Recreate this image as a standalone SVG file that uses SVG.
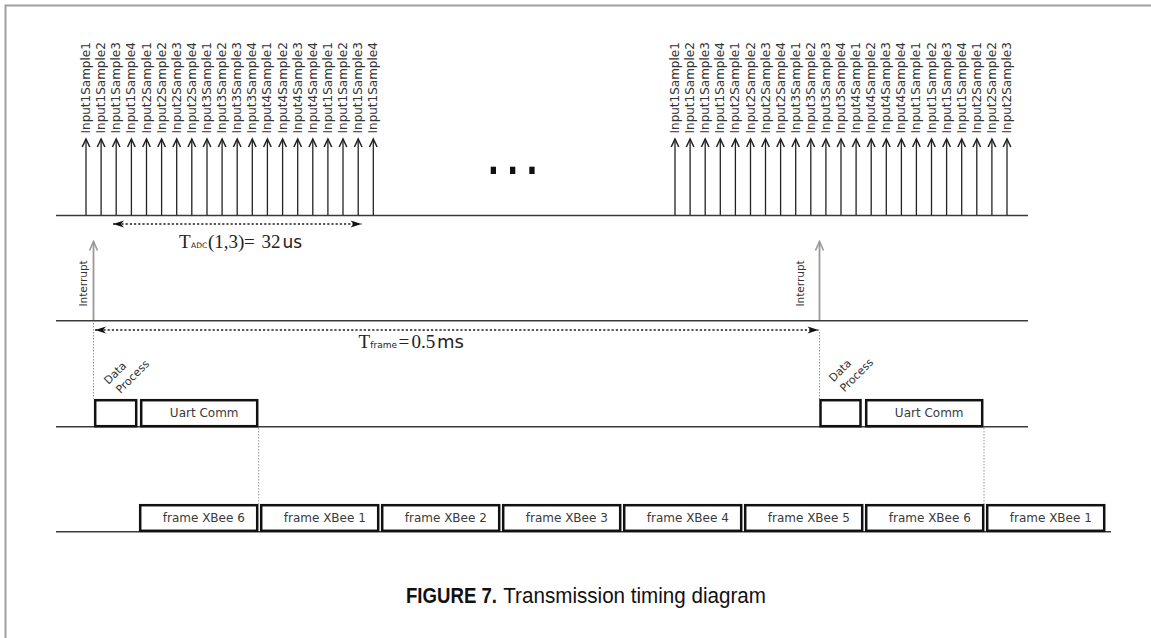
<svg xmlns="http://www.w3.org/2000/svg" width="1151" height="638" viewBox="0 0 1151 638">
<style>
.tl{stroke:#3a3a3a;stroke-width:1.6;fill:none}
.smp{stroke:#222;stroke-width:1.3;fill:none;marker-end:url(#openArrow)}
.irq{stroke:#9a9a9a;stroke-width:1.8;fill:none;marker-end:url(#grayArrow)}
.dim{stroke:#222;stroke-width:1.6;stroke-dasharray:2.2 2;fill:none;marker-start:url(#dimArrow);marker-end:url(#dimArrow)}
.guide{stroke:#999;stroke-width:1;stroke-dasharray:1.5 1.5;fill:none}
.lbl{font-family:"DejaVu Sans",sans-serif;font-size:12px;fill:#333}
.box{fill:#fff;stroke:#111;stroke-width:2.5}
.btxt{font-family:"DejaVu Sans",sans-serif;font-size:12px;fill:#3a3a3a;text-anchor:middle}
.dp{font-family:"DejaVu Sans",sans-serif;font-size:11px;fill:#333}
.irqt{font-family:"DejaVu Sans",sans-serif;font-size:10.5px;fill:#333}
.ser{font-family:"Liberation Serif",serif;fill:#222}
.san{font-family:"DejaVu Sans",sans-serif;fill:#222}
.cap{font-family:"Liberation Sans Narrow","Liberation Sans",sans-serif;font-size:22px;fill:#111}
</style>
<defs>
<marker id="openArrow" viewBox="-10 -6 12 12" markerWidth="12" markerHeight="12" refX="0" refY="0" orient="auto" markerUnits="userSpaceOnUse">
<path d="M-8,-3.8 L0,0 L-8,3.8" fill="none" stroke="#222" stroke-width="1.5"/>
</marker>
<marker id="grayArrow" viewBox="-11 -6 13 12" markerWidth="13" markerHeight="12" refX="0" refY="0" orient="auto" markerUnits="userSpaceOnUse">
<path d="M-9,-4 L0,0 L-9,4" fill="none" stroke="#9a9a9a" stroke-width="1.6"/>
</marker>
<marker id="dimArrow" viewBox="-12 -5 13 10" markerWidth="13" markerHeight="10" refX="0" refY="0" orient="auto-start-reverse" markerUnits="userSpaceOnUse">
<path d="M0,0 L-11,-3.5 L-8,0 L-11,3.5 Z" fill="#111"/>
</marker>
</defs>

<rect width="1151" height="638" fill="#fff"/>
<g id="border"><path d="M5.5,638 V5.5 H1151" fill="none" stroke="#a0a0a0" stroke-width="2"/></g>

<g id="timelines">
<path class="tl" d="M56,215.5 H1028"/>
<path class="tl" d="M56,320.8 H1028"/>
<path class="tl" d="M56,426.8 H1028"/>
<path class="tl" d="M56,531.8 H1111"/>
</g>

<g id="connectors">
<g id="sample-arrows-left">
<path class="smp" d="M86,215 V139"/><path class="smp" d="M101.1,215 V139"/><path class="smp" d="M116.2,215 V139"/><path class="smp" d="M131.4,215 V139"/><path class="smp" d="M146.5,215 V139"/><path class="smp" d="M161.6,215 V139"/><path class="smp" d="M176.7,215 V139"/><path class="smp" d="M191.8,215 V139"/><path class="smp" d="M207,215 V139"/><path class="smp" d="M222.1,215 V139"/><path class="smp" d="M237.2,215 V139"/><path class="smp" d="M252.3,215 V139"/><path class="smp" d="M267.4,215 V139"/><path class="smp" d="M282.6,215 V139"/><path class="smp" d="M297.7,215 V139"/><path class="smp" d="M312.8,215 V139"/><path class="smp" d="M327.9,215 V139"/><path class="smp" d="M343,215 V139"/><path class="smp" d="M358.2,215 V139"/><path class="smp" d="M373.3,215 V139"/>
</g>
<g id="sample-arrows-right">
<path class="smp" d="M675,215 V139"/><path class="smp" d="M690.1,215 V139"/><path class="smp" d="M705.2,215 V139"/><path class="smp" d="M720.3,215 V139"/><path class="smp" d="M735.4,215 V139"/><path class="smp" d="M750.5,215 V139"/><path class="smp" d="M765.5,215 V139"/><path class="smp" d="M780.6,215 V139"/><path class="smp" d="M795.7,215 V139"/><path class="smp" d="M810.8,215 V139"/><path class="smp" d="M825.9,215 V139"/><path class="smp" d="M841,215 V139"/><path class="smp" d="M856.1,215 V139"/><path class="smp" d="M871.2,215 V139"/><path class="smp" d="M886.3,215 V139"/><path class="smp" d="M901.4,215 V139"/><path class="smp" d="M916.4,215 V139"/><path class="smp" d="M931.5,215 V139"/><path class="smp" d="M946.6,215 V139"/><path class="smp" d="M961.7,215 V139"/><path class="smp" d="M976.8,215 V139"/><path class="smp" d="M991.9,215 V139"/><path class="smp" d="M1007,215 V139"/>
</g>
<path class="irq" d="M93.5,320 V241.5"/>
<path class="irq" d="M819.5,320 V241.5"/>
<path class="dim" d="M113,224 H361.5"/>
<path class="dim" d="M95,330 H818.5"/>
<path class="guide" d="M93.5,323 V399"/>
<path class="guide" d="M819.5,332 V399"/>
<path class="guide" d="M258.7,428 V504"/>
<path class="guide" d="M984,428 V504"/>
</g>

<g id="sample-labels-left" class="lbl">
<text transform="translate(90,133.5) rotate(-90)">Input1Sample1</text>
<text transform="translate(105.1,133.5) rotate(-90)">Input1Sample2</text>
<text transform="translate(120.2,133.5) rotate(-90)">Input1Sample3</text>
<text transform="translate(135.4,133.5) rotate(-90)">Input1Sample4</text>
<text transform="translate(150.5,133.5) rotate(-90)">Input2Sample1</text>
<text transform="translate(165.6,133.5) rotate(-90)">Input2Sample2</text>
<text transform="translate(180.7,133.5) rotate(-90)">Input2Sample3</text>
<text transform="translate(195.8,133.5) rotate(-90)">Input2Sample4</text>
<text transform="translate(211,133.5) rotate(-90)">Input3Sample1</text>
<text transform="translate(226.1,133.5) rotate(-90)">Input3Sample2</text>
<text transform="translate(241.2,133.5) rotate(-90)">Input3Sample3</text>
<text transform="translate(256.3,133.5) rotate(-90)">Input3Sample4</text>
<text transform="translate(271.4,133.5) rotate(-90)">Input4Sample1</text>
<text transform="translate(286.6,133.5) rotate(-90)">Input4Sample2</text>
<text transform="translate(301.7,133.5) rotate(-90)">Input4Sample3</text>
<text transform="translate(316.8,133.5) rotate(-90)">Input4Sample4</text>
<text transform="translate(331.9,133.5) rotate(-90)">Input1Sample1</text>
<text transform="translate(347,133.5) rotate(-90)">Input1Sample2</text>
<text transform="translate(362.2,133.5) rotate(-90)">Input1Sample3</text>
<text transform="translate(377.3,133.5) rotate(-90)">Input1Sample4</text>
</g>

<g id="sample-labels-right" class="lbl">
<text transform="translate(679,133.5) rotate(-90)">Input1Sample1</text>
<text transform="translate(694.1,133.5) rotate(-90)">Input1Sample2</text>
<text transform="translate(709.2,133.5) rotate(-90)">Input1Sample3</text>
<text transform="translate(724.3,133.5) rotate(-90)">Input1Sample4</text>
<text transform="translate(739.4,133.5) rotate(-90)">Input2Sample1</text>
<text transform="translate(754.5,133.5) rotate(-90)">Input2Sample2</text>
<text transform="translate(769.5,133.5) rotate(-90)">Input2Sample3</text>
<text transform="translate(784.6,133.5) rotate(-90)">Input2Sample4</text>
<text transform="translate(799.7,133.5) rotate(-90)">Input3Sample1</text>
<text transform="translate(814.8,133.5) rotate(-90)">Input3Sample2</text>
<text transform="translate(829.9,133.5) rotate(-90)">Input3Sample3</text>
<text transform="translate(845,133.5) rotate(-90)">Input3Sample4</text>
<text transform="translate(860.1,133.5) rotate(-90)">Input4Sample1</text>
<text transform="translate(875.2,133.5) rotate(-90)">Input4Sample2</text>
<text transform="translate(890.3,133.5) rotate(-90)">Input4Sample3</text>
<text transform="translate(905.4,133.5) rotate(-90)">Input4Sample4</text>
<text transform="translate(920.4,133.5) rotate(-90)">Input1Sample1</text>
<text transform="translate(935.5,133.5) rotate(-90)">Input1Sample2</text>
<text transform="translate(950.6,133.5) rotate(-90)">Input1Sample3</text>
<text transform="translate(965.7,133.5) rotate(-90)">Input1Sample4</text>
<text transform="translate(980.8,133.5) rotate(-90)">Input2Sample1</text>
<text transform="translate(995.9,133.5) rotate(-90)">Input2Sample2</text>
<text transform="translate(1011,133.5) rotate(-90)">Input2Sample3</text>
</g>

<g id="ellipsis" fill="#111">
<rect x="490.7" y="166.7" width="5.3" height="7.3"/>
<rect x="510" y="166.7" width="5.3" height="7.3"/>
<rect x="529.3" y="166.7" width="5.3" height="7.3"/>
</g>

<g id="t-adc-label">
<text y="247.5"><tspan class="ser" x="179" font-size="19">T</tspan><tspan class="san" x="191" font-size="7.5">ADC</tspan><tspan class="ser" x="208" font-size="19">(1,3)</tspan><tspan class="ser" x="244" font-size="19">=</tspan><tspan class="ser" x="261.5" font-size="19">32</tspan><tspan class="san" x="282.5" font-size="17">us</tspan></text>
</g>

<g id="t-frame-label">
<text y="347.5"><tspan class="ser" x="358.5" font-size="19">T</tspan><tspan class="san" x="370.3" font-size="9">frame</tspan><tspan class="ser" x="398.5" font-size="19">=</tspan><tspan class="ser" x="411.5" font-size="19">0.5</tspan><tspan class="san" x="437" font-size="18">ms</tspan></text>
</g>

<g id="interrupt-left"><text class="irqt" transform="translate(86.5,306.5) rotate(-90)">Interrupt</text></g>
<g id="interrupt-right"><text class="irqt" transform="translate(803.5,306.5) rotate(-90)">Interrupt</text></g>

<g id="data-process-left">
<rect class="box" x="95.2" y="400.2" width="41" height="26"/>
<text class="dp" transform="translate(108.5,385) rotate(-45)">Data</text>
<text class="dp" transform="translate(120.5,394) rotate(-45)">Process</text>
</g>
<g id="uart-left">
<rect class="box" x="141.2" y="400.2" width="116" height="26"/>
<text class="btxt" x="204.2" y="417">Uart Comm</text>
</g>
<g id="data-process-right">
<rect class="box" x="820.5" y="400.2" width="40" height="26"/>
<text class="dp" transform="translate(833.5,382.5) rotate(-45)">Data</text>
<text class="dp" transform="translate(844.5,392.5) rotate(-45)">Process</text>
</g>
<g id="uart-right">
<rect class="box" x="866.2" y="400.2" width="116" height="26"/>
<text class="btxt" x="929.2" y="417">Uart Comm</text>
</g>

<g id="frame-0"><rect class="box" x="140.2" y="505.2" width="117" height="25.6"/><text class="btxt" x="203.8" y="521.5">frame XBee 6</text></g>
<g id="frame-1"><rect class="box" x="261.2" y="505.2" width="117" height="25.6"/><text class="btxt" x="324.8" y="521.5">frame XBee 1</text></g>
<g id="frame-2"><rect class="box" x="382.2" y="505.2" width="117" height="25.6"/><text class="btxt" x="445.8" y="521.5">frame XBee 2</text></g>
<g id="frame-3"><rect class="box" x="503.2" y="505.2" width="117" height="25.6"/><text class="btxt" x="566.8" y="521.5">frame XBee 3</text></g>
<g id="frame-4"><rect class="box" x="624.2" y="505.2" width="117" height="25.6"/><text class="btxt" x="687.8" y="521.5">frame XBee 4</text></g>
<g id="frame-5"><rect class="box" x="745.2" y="505.2" width="117" height="25.6"/><text class="btxt" x="808.8" y="521.5">frame XBee 5</text></g>
<g id="frame-6"><rect class="box" x="866.2" y="505.2" width="117" height="25.6"/><text class="btxt" x="929.8" y="521.5">frame XBee 6</text></g>
<g id="frame-7"><rect class="box" x="987.2" y="505.2" width="117" height="25.6"/><text class="btxt" x="1050.8" y="521.5">frame XBee 1</text></g>

<g id="caption">
<text class="cap" x="406" y="603" font-weight="bold" textLength="91" lengthAdjust="spacingAndGlyphs">FIGURE 7.</text>
<text class="cap" x="503.3" y="603" textLength="262.7" lengthAdjust="spacingAndGlyphs">Transmission timing diagram</text>
</g>
</svg>
